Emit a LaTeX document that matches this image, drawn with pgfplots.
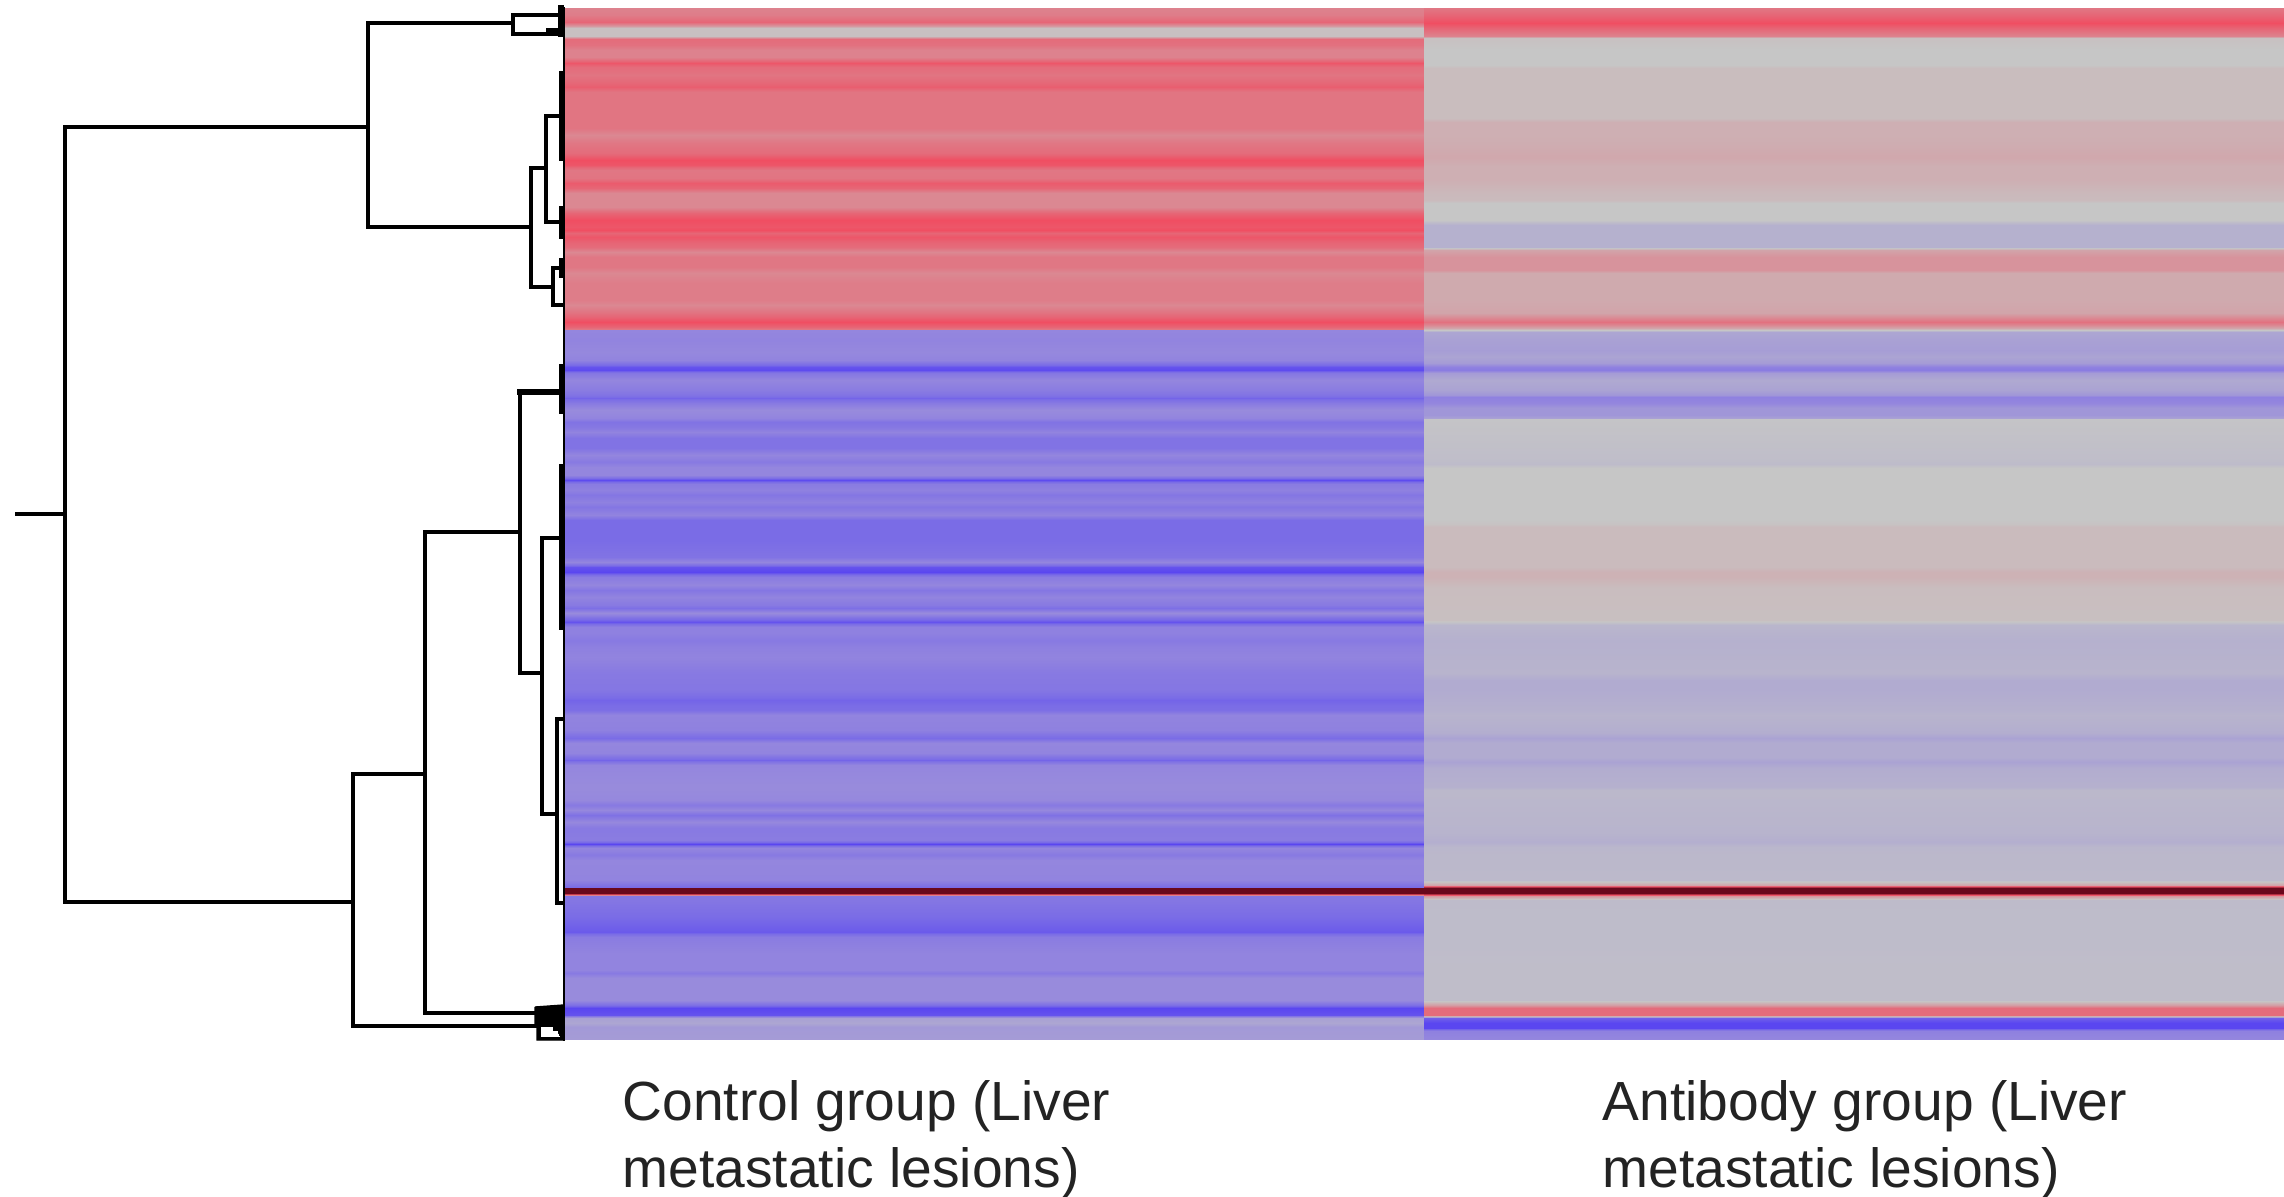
\documentclass[border=0pt]{standalone}
\usepackage{fontspec}
\setmainfont{Liberation Sans}
\usepackage{pgfplots}
\usepackage{pgfplotstable}
\pgfplotsset{compat=1.18}
\pgfplotsset{colormap={hm}{rgb255(0cm)=(90,70,240) rgb255(0.15cm)=(122,108,230) rgb255(0.4cm)=(148,134,222) rgb255(1cm)=(198,198,198) rgb255(1.85cm)=(230,102,118) rgb255(2cm)=(240,78,98) rgb255(3cm)=(105,8,28)}}
\pgfplotstableread{
y v
8 .6
15 .65
22 .85
26 .4
28 .05
36 .05
39 .8
45 .75
50 .6
57 .6
63 .95
67 .8
75 .72
87 .9
92 .72
120 .72
128 .72
135 .55
143 .7
153 .8
160 1
165 .95
170 .7
178 .72
183 .92
188 .85
193 .55
207 .55
213 .85
220 1
227 .95
230 1
233 .85
237 .95
243 .85
247 .8
252 .55
257 .7
267 .7
273 .55
283 .65
300 .65
305 .55
312 .72
322 1
327 .85
329 .7
330 -.6
340 -.62
352 -.58
360 -.62
367 -.95
370 -.98
373 -.75
380 -.6
390 -.7
395 -.78
398 -.88
403 -.72
410 -.55
418 -.62
422 -.78
428 -.72
432 -.62
438 -.78
448 -.78
455 -.6
462 -.72
467 -.6
475 -.6
480 -.98
484 -.7
490 -.65
495 -.75
502 -.65
507 -.75
515 -.62
520 -.85
540 -.85
557 -.78
562 -.6
567 -.95
572 -1
577 -.7
585 -.6
590 -.75
597 -.62
605 -.72
608 -.82
613 -.55
618 -.8
622 -.95
627 -.65
633 -.65
640 -.72
647 -.66
657 -.62
673 -.72
690 -.75
700 -.88
710 -.82
715 -.62
730 -.65
738 -.85
743 -.6
753 -.62
760 -.88
765 -.6
787 -.55
800 -.58
805 -.72
810 -.58
815 -.8
822 -.58
828 -.72
837 -.7
840 -.7
844 -1
848 -.6
855 -.72
860 -.6
880 -.62
887 -.85
888 2
893 2
895 .6
896 -.75
900 -.75
917 -.85
932 -.92
937 -.7
953 -.62
970 -.62
973 -.72
978 -.55
1000 -.55
1005 -.82
1008 -1
1015 -.95
1018 -.35
1023 -.3
1027 -.42
1039 -.4
}\ctrlbase
\pgfplotstableread{
y v
8 .7
15 .85
23 1
30 .8
36 .6
38 .05
50 0
65 0
68 .08
100 .08
118 .08
122 .2
133 .2
143 .22
157 .27
167 .2
180 .2
193 .12
200 .1
203 0
220 0
225 -.2
247 -.2
250 .3
257 .45
270 .45
273 .25
300 .25
313 .3
318 .55
322 .75
325 .55
328 .3
332 -.3
340 -.35
350 -.38
357 -.32
363 -.4
367 -.65
370 -.7
373 -.4
380 -.27
390 -.33
395 -.45
397 -.65
403 -.6
408 -.45
415 -.45
418 -.35
419 -.02
440 -.05
460 -.08
464 -.1
468 0
520 0
524 .03
527 .1
567 .1
572 .18
577 .18
588 .08
620 .06
625 -.15
640 -.2
673 -.17
680 -.25
690 -.25
710 -.2
715 -.17
733 -.23
738 -.33
743 -.25
757 -.25
762 -.33
768 -.24
787 -.2
790 -.13
833 -.17
842 -.22
847 -.14
880 -.12
885 .3
888 2
893 2
896 .4
900 -.1
1000 -.08
1005 .35
1008 .8
1015 .8
1018 -.9
1023 -1
1028 -1
1031 -.65
1039 -.6
}\abbase
\pgfplotstablevertcat{\ctrldouble}{\ctrlbase}
\pgfplotstablevertcat{\ctrldouble}{\ctrlbase}
\pgfplotstablesort[sort key=y]{\ctrlsorted}{\ctrldouble}
\pgfplotstablevertcat{\abdouble}{\abbase}
\pgfplotstablevertcat{\abdouble}{\abbase}
\pgfplotstablesort[sort key=y]{\absorted}{\abdouble}
\definecolor{txt}{RGB}{35,35,35}
\begin{document}
\begin{tikzpicture}
\path (0,0) rectangle (685.2pt,358.8pt);
\begin{axis}[
  at={(0,0)},anchor=south west,
  width=685.2pt,height=358.8pt,scale only axis,
  xmin=0,xmax=2284,ymin=0,ymax=1196,y dir=reverse,
  axis lines=none,
  colormap name=hm,point meta min=-1,point meta max=2,
  dend/.style={black,line width=1.15pt,line cap=rect,no markers,forget plot},
]
\addplot[surf,shader=interp,mesh/cols=2,point meta=explicit,forget plot]
  table[x expr={(\coordindex/2-floor(\coordindex/2+0.25))>0.25?1424:565},y=y,meta=v]{\ctrlsorted};
\addplot[surf,shader=interp,mesh/cols=2,point meta=explicit,forget plot]
  table[x expr={(\coordindex/2-floor(\coordindex/2+0.25))>0.25?2284:1424},y=y,meta=v]{\absorted};
% dendrogram
\addplot[dend] coordinates {(17,514)(65,514)};
\addplot[dend] coordinates {(368,127)(65,127)(65,902)(353,902)};
\addplot[dend] coordinates {(562,15)(513,15)(513,34)(562,34)};
\addplot[dend] coordinates {(513,23)(368,23)(368,227)(531,227)};
\addplot[dend] coordinates {(546,168)(531,168)(531,287)(553,287)};
\addplot[dend] coordinates {(560,116)(546,116)(546,222)(560,222)};
\addplot[dend] coordinates {(562,268)(553,268)(553,305)(562,305)};
\addplot[dend] coordinates {(425,774)(353,774)(353,1026)(537,1026)};
\addplot[dend] coordinates {(520,532)(425,532)(425,1013)(537,1013)};
\addplot[dend] coordinates {(560,392)(520,392)(520,673)(542,673)};
\addplot[dend] coordinates {(560,538)(542,538)(542,814)(557,814)};
\addplot[dend] coordinates {(562,719)(557,719)(557,903)(562,903)};
\addplot[dend,line width=1.6pt] coordinates {(520,392)(560,392)};
\addplot[dend,line width=.8pt] coordinates {(564,8)(564,1040)};
\addplot[dend,line width=1.6pt] coordinates {(561,8)(561,34)};
\addplot[dend,line width=1.6pt] coordinates {(549,31)(561,31)};
\addplot[dend,line width=1.4pt] coordinates {(561,73)(561,159)};
\addplot[dend,line width=1.4pt] coordinates {(561,208)(561,237)};
\addplot[dend,line width=1.2pt] coordinates {(561,260)(561,276)};
\addplot[dend,line width=1.4pt] coordinates {(561,366)(561,412)};
\addplot[dend,line width=1.4pt] coordinates {(561,466)(561,628)};
\addplot[black,fill=black,forget plot] coordinates {(535,1007)(563,1005)(563,1040)(537,1040)(537,1027)(535,1027)(535,1007)};
\addplot[white,fill=white,line width=0pt,forget plot] coordinates {(541,1027)(552,1027)(552,1031)(557,1031)(559,1036)(541,1036)(541,1027)};
\node[anchor=base west,inner sep=0pt,text=txt,font=\fontsize{16.55}{17}\selectfont] at (axis cs:622,1120) {Control group (Liver};
\node[anchor=base west,inner sep=0pt,text=txt,font=\fontsize{16.55}{17}\selectfont] at (axis cs:622,1187) {metastatic lesions)};
\node[anchor=base west,inner sep=0pt,text=txt,font=\fontsize{16.55}{17}\selectfont] at (axis cs:1602,1120) {Antibody group (Liver};
\node[anchor=base west,inner sep=0pt,text=txt,font=\fontsize{16.55}{17}\selectfont] at (axis cs:1602,1187) {metastatic lesions)};
\end{axis}
\end{tikzpicture}
\end{document}
